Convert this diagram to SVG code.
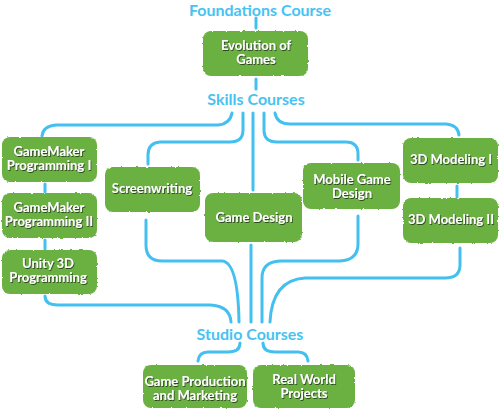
<svg xmlns="http://www.w3.org/2000/svg" width="500" height="411" viewBox="0 0 500 411">
<defs>
<filter id="rough" x="-5%" y="-10%" width="110%" height="120%">
<feTurbulence type="fractalNoise" baseFrequency="0.35" numOctaves="2" seed="3" result="n"/>
<feDisplacementMap in="SourceGraphic" in2="n" scale="2.5" xChannelSelector="R" yChannelSelector="G"/>
</filter>
<filter id="shadow" x="-10%" y="-20%" width="120%" height="150%">
<feDropShadow dx="0.8" dy="1" stdDeviation="0.4" flood-color="#2a3a1a" flood-opacity="0.9"/>
</filter>
</defs>
<style>
.box{fill:#6bb142;filter:url(#rough)}
.lbl{font-family:Lato,"Open Sans",sans-serif;font-weight:bold;font-size:13px;fill:#ffffff;text-anchor:middle;filter:url(#shadow)}
.hdr{font-family:Lato,"Open Sans",sans-serif;font-weight:bold;font-size:16px;fill:#47c3f1;text-anchor:middle}
.c{fill:none;stroke:#43c0f0;stroke-width:3;stroke-linecap:round}
</style>
<g id="connectors">
<path class="c" d="M256 18 V28"/>
<path class="c" d="M256 79 V89"/>
<path class="c" d="M232 113 Q230 124 218 125 H56 Q43 126 42 136"/>
<path class="c" d="M243 113 V130 Q243 142 230 142 H160 Q148 143 148 155 V164"/>
<path class="c" d="M253 113 V190"/>
<path class="c" d="M264 113 V130 Q264 142 277 142 H346 Q358 142 358 154 V160"/>
<path class="c" d="M275 113 Q277 124 290 124 H446 Q458 125 459 135"/>
<path class="c" d="M45 184 V192"/>
<path class="c" d="M45 240 V249"/>
<path class="c" d="M457 186 V197"/>
<path class="c" d="M45 296 Q45 305 58 305 H210 Q230 306 231 322"/>
<path class="c" d="M146 220 V245 Q146 261 162 261 H222 Q238 262 239 322"/>
<path class="c" d="M251 245 V322"/>
<path class="c" d="M358 216 V244 Q358 260 340 261 H280 Q262 262 262 278 V322"/>
<path class="c" d="M460 248 V265 Q460 278 445 278 H305 Q272 280 270 322"/>
<path class="c" d="M240 343 Q240 352 228 352 H208 Q199 352 198 361"/>
<path class="c" d="M263 343 Q263 352 275 352 H298 Q307 352 308 361"/>
</g>
<g id="hdr-foundations"><text class="hdr" x="260" y="16">Foundations Course</text></g>
<g id="hdr-skills"><text class="hdr" x="256" y="105">Skills Courses</text></g>
<g id="hdr-studio"><text class="hdr" x="250" y="340">Studio Courses</text></g>
<g id="n-evolution"><rect class="box" x="203" y="31" width="105" height="45" rx="8"/><text class="lbl" x="256" y="50">Evolution of</text><text class="lbl" x="256" y="64">Games</text></g>
<g id="n-gm1"><rect class="box" x="2" y="137" width="95" height="45" rx="8"/><text class="lbl" x="49" y="156">GameMaker</text><text class="lbl" x="49" y="170">Programming I</text></g>
<g id="n-gm2"><rect class="box" x="2" y="193" width="95" height="45" rx="8"/><text class="lbl" x="49" y="212">GameMaker</text><text class="lbl" x="49" y="226">Programming II</text></g>
<g id="n-unity"><rect class="box" x="2" y="250" width="95" height="44" rx="8"/><text class="lbl" x="48" y="268">Unity 3D</text><text class="lbl" x="48" y="282">Programming</text></g>
<g id="n-screen"><rect class="box" x="105" y="167" width="95" height="45" rx="8"/><text class="lbl" x="152" y="193">Screenwriting</text></g>
<g id="n-gamedesign"><rect class="box" x="205" y="193" width="97" height="49" rx="8"/><text class="lbl" x="254" y="222">Game Design</text></g>
<g id="n-mobile"><rect class="box" x="303" y="163" width="97" height="46" rx="8"/><text class="lbl" x="352" y="184">Mobile Game</text><text class="lbl" x="352" y="198">Design</text></g>
<g id="n-3d1"><rect class="box" x="403" y="138" width="95" height="45" rx="8"/><text class="lbl" x="451" y="164">3D Modeling I</text></g>
<g id="n-3d2"><rect class="box" x="403" y="198" width="95" height="45" rx="8"/><text class="lbl" x="451" y="224">3D Modeling II</text></g>
<g id="n-gameprod"><rect class="box" x="143" y="365" width="104" height="43" rx="8"/><text class="lbl" x="195" y="386">Game Production</text><text class="lbl" x="195" y="400">and Marketing</text></g>
<g id="n-realworld"><rect class="box" x="253" y="365" width="102" height="43" rx="8"/><text class="lbl" x="304" y="384">Real World</text><text class="lbl" x="304" y="398">Projects</text></g>
</svg>
